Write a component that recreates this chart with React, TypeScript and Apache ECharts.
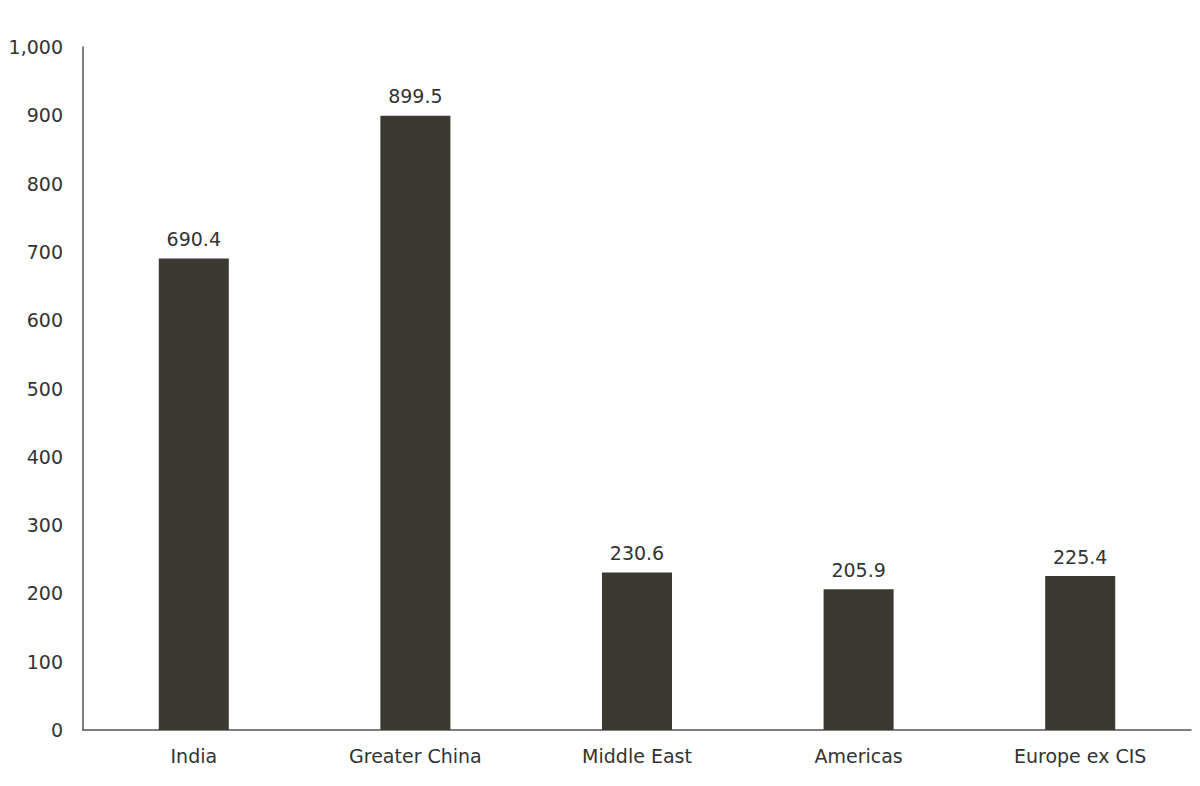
import React, { useEffect, useRef } from "react";
import * as echarts from "echarts";

const categories = ["India", "Greater China", "Middle East", "Americas", "Europe ex CIS"];
const values = [690.4, 899.5, 230.6, 205.9, 225.4];

export default function App() {
  const ref = useRef<HTMLDivElement>(null);
  useEffect(() => {
    document.body.style.margin = "0";
    const chart = echarts.init(ref.current!, null, { renderer: "svg" });
    const font = "DejaVu Sans, Verdana, sans-serif";
    chart.setOption({
      animation: false,
      backgroundColor: "#ffffff",
      grid: { left: 83, right: 9, top: 47, bottom: 56, containLabel: false },
      xAxis: {
        type: "category",
        data: categories,
        axisLine: { lineStyle: { color: "#555555", width: 1.5 } },
        axisTick: { show: false },
        axisLabel: { color: "#333333", fontFamily: font, fontSize: 19, margin: 16 },
      },
      yAxis: {
        type: "value",
        min: 0,
        max: 1000,
        interval: 100,
        axisLine: { show: true, lineStyle: { color: "#555555", width: 1.5 } },
        axisTick: { show: false },
        splitLine: { show: false },
        axisLabel: {
          color: "#333333",
          fontFamily: font,
          fontSize: 19,
          margin: 20,
          formatter: (v: number) => v.toLocaleString("en-US"),
        },
      },
      series: [
        {
          type: "bar",
          data: values,
          barWidth: "31.6%",
          itemStyle: { color: "#3c3932" },
          label: {
            show: true,
            position: "top",
            distance: 10,
            color: "#333333",
            fontFamily: font,
            fontSize: 19,
            formatter: (p: any) => p.value.toFixed(1),
          },
        },
      ],
    });
    return () => chart.dispose();
  }, []);
  return <div ref={ref} style={{ width: 1200, height: 786 }} />;
}
